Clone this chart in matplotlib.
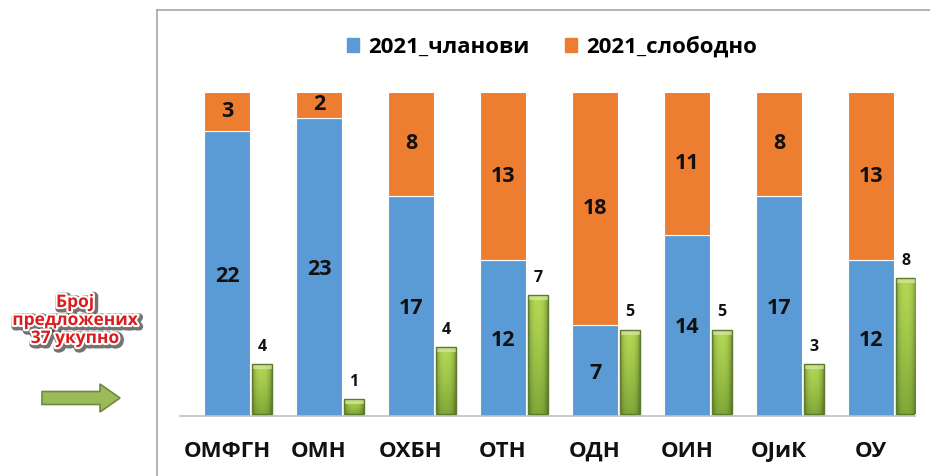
import matplotlib
matplotlib.use("Agg")
import matplotlib.pyplot as plt
import matplotlib.patheffects as pe
from matplotlib.patches import FancyArrow, Rectangle
from matplotlib.lines import Line2D
import numpy as np

plt.rcParams['font.family'] = ['Open Sans', 'DejaVu Sans']

categories = ['ОМФГН', 'ОМН', 'ОХБН', 'ОТН', 'ОДН', 'ОИН', 'ОЈиК', 'ОУ']
members = [22, 23, 17, 12, 7, 14, 17, 12]
free = [3, 2, 8, 13, 18, 11, 8, 13]
proposed = [4, 1, 4, 7, 5, 5, 3, 8]          # data labels
proposed_bar = [3, 1, 4, 7, 5, 5, 3, 8]      # bar heights as drawn in the source
series_names = ['2021_чланови', '2021_слободно']
side_text = 'Број\nпредложених\n37 укупно'

BLUE = '#5B9BD5'
ORANGE = '#ED7D31'

W, H = 930, 476
fig = plt.figure(figsize=(W / 100, H / 100), dpi=100)

# frame lines
fig.add_artist(Line2D([157 / W, 157 / W], [0, 1 - 10 / H], color='#A6A6A6', lw=1.2))
fig.add_artist(Line2D([157 / W, 1], [1 - 10 / H, 1 - 10 / H], color='#A6A6A6', lw=1.2))

ax = fig.add_axes([180 / W, 1 - 416 / H, (915 - 180) / W, (416 - 92) / H])
x0 = 227
step = 92
ax.set_xlim((180 - x0) / step, (915 - x0) / step)
ax.set_ylim(0, 25)
x = np.arange(len(categories))

ax.bar(x, members, width=0.5, color=BLUE, edgecolor='white', linewidth=0.8, zorder=2)
ax.bar(x, free, bottom=members, width=0.5, color=ORANGE, edgecolor='white', linewidth=0.8, zorder=2)

for i in range(len(categories)):
    ax.text(x[i], members[i] / 2 - 0.2, str(members[i]), ha='center', va='center',
            fontsize=15.5, fontweight='bold', color='#111111', zorder=5)
    ax.text(x[i], members[i] + free[i] / 2, str(free[i]), ha='center', va='center',
            fontsize=15.5, fontweight='bold', color='#111111', zorder=5)

ax.set_xticks(x)
ax.set_xticklabels(categories, fontsize=16, fontweight='bold', color='#111111')
ax.tick_params(axis='x', length=0, pad=18)
ax.set_yticks([])
for s in ['top', 'right', 'left']:
    ax.spines[s].set_visible(False)
ax.spines['bottom'].set_color('#BFBFBF')
ax.spines['bottom'].set_linewidth(1.2)
ax.set_facecolor('none')

# secondary axis for green bevelled bars
ax2 = ax.twinx()
ax2.axis('off')
gx = x + 0.38
gw = 0.21
gb = 0.12
ny, nx = 64, 32
yy = np.linspace(0, 1, ny)[:, None]
xx = np.linspace(0, 1, nx)[None, :]
side = 1 - 0.3 * (np.abs(xx - 0.5) * 2) ** 3
top_col = np.array([0.70, 0.84, 0.33])
bot_col = np.array([0.50, 0.66, 0.22])
base = top_col[None, None, :] + (bot_col - top_col)[None, None, :] * (yy[:, :, None] ** 1.3)
img = np.clip(base * side[:, :, None], 0, 1)
for i in range(len(categories)):
    h = proposed_bar[i] - gb
    rect = Rectangle((gx[i] - gw / 2, gb), gw, h, facecolor='#9BBB59',
                     edgecolor='none', zorder=3)
    ax2.add_patch(rect)
    im = ax2.imshow(img, extent=(gx[i] - gw / 2, gx[i] + gw / 2, gb, gb + h),
                    aspect='auto', zorder=3.5, interpolation='bilinear')
    im.set_clip_path(rect)
    cap = Rectangle((gx[i] - gw / 2, gb + h - 0.3), gw, 0.3, facecolor='#D4E6A0',
                    edgecolor='none', alpha=0.75, zorder=3.6)
    ax2.add_patch(cap)
    edge = Rectangle((gx[i] - gw / 2, gb), gw, h, facecolor='none',
                     edgecolor='#5E7A2C', linewidth=1.0, zorder=3.7)
    ax2.add_patch(edge)
    ax2.text(gx[i], gb + h + 1.0, str(proposed[i]), ha='center', va='center',
             fontsize=11.5, fontweight='bold', color='#111111', zorder=5)
ax2.set_xlim(ax.get_xlim())
ax2.set_ylim(0, 324 / 17.25)

handles = [Rectangle((0, 0), 1, 1, color=BLUE), Rectangle((0, 0), 1, 1, color=ORANGE)]
fig.legend(handles, series_names, loc='center', bbox_to_anchor=(552 / W, 1 - 47 / H),
           ncol=2, frameon=False, prop={'size': 16, 'weight': 'bold'},
           handlelength=0.55, handleheight=0.55, handletextpad=0.4, columnspacing=1.6)

# side text
fig.text(75 / W, 1 - 320 / H, side_text, ha='center', va='center', fontsize=12.5,
         fontweight='bold', color='#D81E1E', linespacing=1.0,
         path_effects=[pe.Stroke(linewidth=5.5, foreground='black', alpha=0.55, offset=(1.2, -1.2)),
                       pe.Stroke(linewidth=3, foreground='white'), pe.Normal()])

# arrow
arr = FancyArrow(42 / W, 1 - 398 / H, (120 - 42) / W, 0, width=13 / H, head_width=28 / H,
                 head_length=20 / W, length_includes_head=True, transform=fig.transFigure,
                 facecolor='#9BBB59', edgecolor='#71893F', linewidth=1.2)
fig.add_artist(arr)

fig.savefig('out.png', dpi=100)
